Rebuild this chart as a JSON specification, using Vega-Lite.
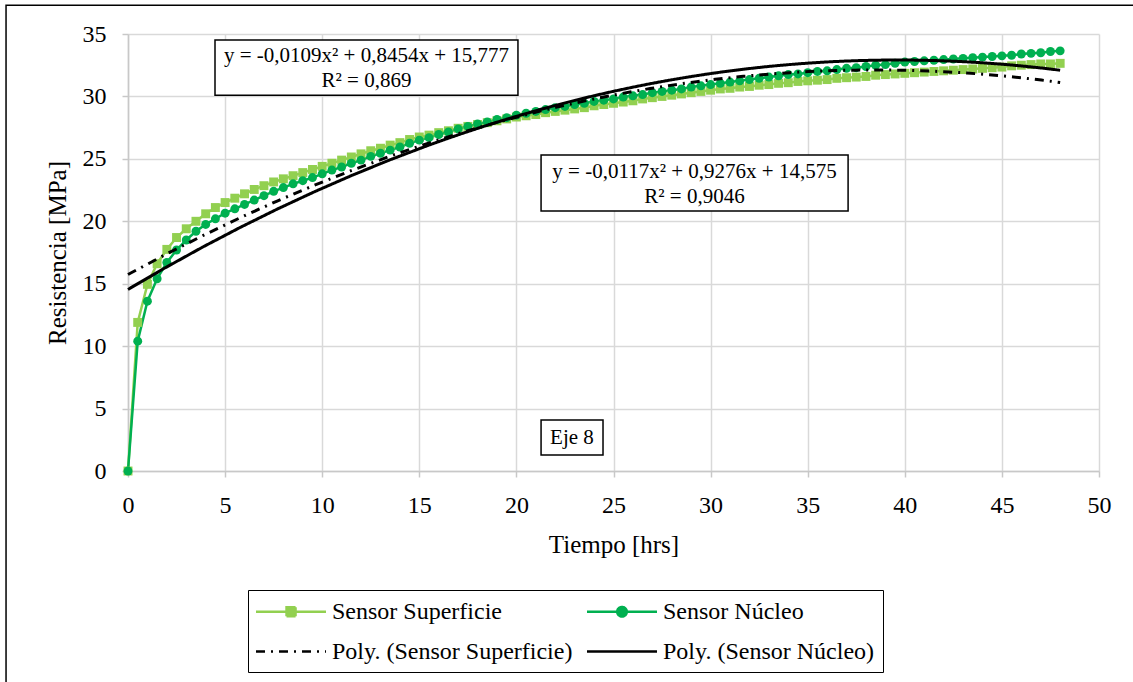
{
 "$schema": "https://vega.github.io/schema/vega-lite/v6.json",
 "width": 971, "height": 437,
 "autosize": {"type": "none"},
 "padding": {"left": 128, "top": 34, "right": 34, "bottom": 211},
 "background": "white",
 "config": {
  "view": {"stroke": null},
  "font": "Liberation Serif",
  "axis": {"gridColor": "#d9d9d9", "gridWidth": 1.5, "domainColor": "#c8c8c8", "domainWidth": 1.5, "tickColor": "#c8c8c8", "tickSize": 6, "tickWidth": 1.5, "labelFont": "Liberation Serif", "labelFontSize": 24, "labelColor": "black", "titleFont": "Liberation Serif", "titleFontSize": 25, "titleFontWeight": "normal", "titleColor": "black", "labelPadding": 16, "labelFlush": false, "labelOverlap": false},
  "axisX": {"titlePadding": 15},
  "axisY": {"titlePadding": 12}
 },
 "datasets": {
  "obs": [
   {"t":0,"sup":0,"nuc":0},{"t":0.5,"sup":11.9,"nuc":10.4},{"t":1,"sup":14.95,"nuc":13.6},{"t":1.5,"sup":16.6,"nuc":15.4},{"t":2,"sup":17.75,"nuc":16.7},{"t":2.5,"sup":18.7,"nuc":17.7},{"t":3,"sup":19.4,"nuc":18.5},{"t":3.5,"sup":20.0,"nuc":19.2},{"t":4,"sup":20.6,"nuc":19.75},{"t":4.5,"sup":21.1,"nuc":20.2},
   {"t":5,"sup":21.5,"nuc":20.65},{"t":5.5,"sup":21.85,"nuc":21.0},{"t":6,"sup":22.2,"nuc":21.35},{"t":6.5,"sup":22.55,"nuc":21.7},{"t":7,"sup":22.85,"nuc":22.05},{"t":7.5,"sup":23.15,"nuc":22.4},{"t":8,"sup":23.4,"nuc":22.7},{"t":8.5,"sup":23.65,"nuc":23.0},{"t":9,"sup":23.9,"nuc":23.25},{"t":9.5,"sup":24.15,"nuc":23.5},
   {"t":10,"sup":24.4,"nuc":23.8},{"t":10.5,"sup":24.65,"nuc":24.1},{"t":11,"sup":24.9,"nuc":24.35},{"t":11.5,"sup":25.15,"nuc":24.65},{"t":12,"sup":25.4,"nuc":24.9},{"t":12.5,"sup":25.65,"nuc":25.2},{"t":13,"sup":25.85,"nuc":25.45},{"t":13.5,"sup":26.1,"nuc":25.7},{"t":14,"sup":26.3,"nuc":25.95},{"t":14.5,"sup":26.55,"nuc":26.25},
   {"t":15,"sup":26.75,"nuc":26.5},{"t":15.5,"sup":26.9,"nuc":26.7},{"t":16,"sup":27.1,"nuc":26.95},{"t":16.5,"sup":27.25,"nuc":27.15},{"t":17,"sup":27.45,"nuc":27.4},{"t":17.5,"sup":27.6,"nuc":27.6},{"t":18,"sup":27.75,"nuc":27.8},{"t":18.5,"sup":27.9,"nuc":27.95},{"t":19,"sup":28.05,"nuc":28.15},{"t":19.5,"sup":28.2,"nuc":28.3},
   {"t":20,"sup":28.35,"nuc":28.5},{"t":20.5,"sup":28.45,"nuc":28.65},{"t":21,"sup":28.55,"nuc":28.8},{"t":21.5,"sup":28.7,"nuc":28.95},{"t":22,"sup":28.8,"nuc":29.1},{"t":22.5,"sup":28.9,"nuc":29.2},{"t":23,"sup":29.0,"nuc":29.35},{"t":23.5,"sup":29.1,"nuc":29.45},{"t":24,"sup":29.25,"nuc":29.6},{"t":24.5,"sup":29.35,"nuc":29.7},
   {"t":25,"sup":29.45,"nuc":29.8},{"t":25.5,"sup":29.55,"nuc":29.95},{"t":26,"sup":29.65,"nuc":30.05},{"t":26.5,"sup":29.8,"nuc":30.15},{"t":27,"sup":29.9,"nuc":30.3},{"t":27.5,"sup":30.0,"nuc":30.4},{"t":28,"sup":30.1,"nuc":30.5},{"t":28.5,"sup":30.2,"nuc":30.6},{"t":29,"sup":30.3,"nuc":30.75},{"t":29.5,"sup":30.4,"nuc":30.85},
   {"t":30,"sup":30.5,"nuc":30.95},{"t":30.5,"sup":30.6,"nuc":31.05},{"t":31,"sup":30.65,"nuc":31.15},{"t":31.5,"sup":30.75,"nuc":31.25},{"t":32,"sup":30.8,"nuc":31.35},{"t":32.5,"sup":30.9,"nuc":31.45},{"t":33,"sup":30.95,"nuc":31.55},{"t":33.5,"sup":31.05,"nuc":31.65},{"t":34,"sup":31.1,"nuc":31.75},{"t":34.5,"sup":31.2,"nuc":31.8},
   {"t":35,"sup":31.25,"nuc":31.9},{"t":35.5,"sup":31.3,"nuc":32.0},{"t":36,"sup":31.35,"nuc":32.05},{"t":36.5,"sup":31.45,"nuc":32.15},{"t":37,"sup":31.5,"nuc":32.25},{"t":37.5,"sup":31.55,"nuc":32.3},{"t":38,"sup":31.6,"nuc":32.4},{"t":38.5,"sup":31.7,"nuc":32.5},{"t":39,"sup":31.75,"nuc":32.55},{"t":39.5,"sup":31.8,"nuc":32.65},
   {"t":40,"sup":31.85,"nuc":32.75},{"t":40.5,"sup":31.9,"nuc":32.8},{"t":41,"sup":31.95,"nuc":32.85},{"t":41.5,"sup":32.0,"nuc":32.9},{"t":42,"sup":32.05,"nuc":32.95},{"t":42.5,"sup":32.1,"nuc":33.0},{"t":43,"sup":32.15,"nuc":33.05},{"t":43.5,"sup":32.2,"nuc":33.1},{"t":44,"sup":32.25,"nuc":33.15},{"t":44.5,"sup":32.3,"nuc":33.2},
   {"t":45,"sup":32.35,"nuc":33.25},{"t":45.5,"sup":32.45,"nuc":33.3},{"t":46,"sup":32.5,"nuc":33.4},{"t":46.5,"sup":32.55,"nuc":33.45},{"t":47,"sup":32.6,"nuc":33.5},{"t":47.5,"sup":32.6,"nuc":33.6},{"t":48,"sup":32.65,"nuc":33.65}
  ],
  "frame": [{"x1": -6.28, "x2": 60, "y1": -30, "y2": 37.31}],
  "boxes": [
   {"x1": 4.48, "x2": 20.08, "y1": 30.10, "y2": 34.51},
   {"x1": 21.27, "x2": 37.08, "y1": 20.82, "y2": 25.30},
   {"x1": 21.27, "x2": 24.46, "y1": 1.28, "y2": 4.08}
  ],
  "texts": [
   {"x": 12.28, "y": 33.23, "label": "y = -0,0109x² + 0,8454x + 15,777"},
   {"x": 12.28, "y": 31.22, "label": "R² = 0,869"},
   {"x": 29.17, "y": 23.94, "label": "y = -0,0117x² + 0,9276x + 14,575"},
   {"x": 29.17, "y": 21.94, "label": "R² = 0,9046"},
   {"x": 22.86, "y": 2.64, "label": "Eje 8"}
  ]
 },
 "layer": [
  {
   "data": {"name": "frame"},
   "mark": {"type": "rect", "fill": null, "stroke": "black", "strokeWidth": 1.5},
   "encoding": {
    "x": {"field": "x1", "type": "quantitative", "scale": {"domain": [0, 50], "nice": false, "zero": false}, "axis": {"values": [0,5,10,15,20,25,30,35,40,45,50]}, "title": "Tiempo [hrs]"},
    "x2": {"field": "x2"},
    "y": {"field": "y1", "type": "quantitative", "scale": {"domain": [0, 35], "nice": false, "zero": false}, "axis": {"values": [0,5,10,15,20,25,30,35]}, "title": "Resistencia [MPa]"},
    "y2": {"field": "y2"}
   }
  },
  {
   "data": {"name": "obs"},
   "transform": [{"fold": ["sup", "nuc"], "as": ["key", "val"]}],
   "layer": [
    {
     "mark": {"type": "line", "strokeWidth": 2.5},
     "encoding": {
      "x": {"field": "t", "type": "quantitative", "title": "Tiempo [hrs]"},
      "y": {"field": "val", "type": "quantitative", "title": "Resistencia [MPa]"},
      "color": {"field": "key", "type": "nominal",
       "scale": {"domain": ["sup", "psup", "nuc", "pnuc"], "range": ["#92D050", "#000000", "#00B050", "#000000"]},
       "legend": {
        "orient": "none", "legendX": 120, "legendY": 556, "columns": 2, "title": null,
        "strokeColor": "black", "fillColor": "white", "padding": 8, "rowPadding": 14, "columnPadding": 9,
        "labelFont": "Liberation Serif", "labelFontSize": 24, "labelColor": "black", "labelLimit": 400, "labelOffset": 49,
        "symbolSize": 576, "symbolStrokeWidth": 2.5,
        "labelExpr": "datum.label == 'sup' ? 'Sensor Superficie' : datum.label == 'nuc' ? 'Sensor Núcleo' : datum.label == 'psup' ? 'Poly. (Sensor Superficie)' : 'Poly. (Sensor Núcleo)'",
        "encode": {"symbols": {"update": {
         "size": {"value": 576},
         "strokeWidth": {"value": 2.5},
         "shape": {"signal": "datum.value == 'sup' ? 'M-1.125,0H4.708M1.42,-0.375H2.17V0.375H1.42Z' : datum.value == 'nuc' ? 'M-1.125,0H4.708M1.39,0A0.4,0.4,0,1,1,2.19,0A0.4,0.4,0,1,1,1.39,0Z' : 'M-1.125,0H4.708'"},
         "fill": {"signal": "scale('color', datum.value)"},
         "stroke": {"signal": "scale('color', datum.value)"},
         "strokeDash": {"signal": "datum.value == 'psup' ? [9, 6, 2, 6] : [1, 0]"}
        }}}
       }
      }
     }
    },
    {
     "mark": {"type": "point", "filled": true, "opacity": 1, "size": 80},
     "encoding": {
      "x": {"field": "t", "type": "quantitative", "title": "Tiempo [hrs]"},
      "y": {"field": "val", "type": "quantitative", "title": "Resistencia [MPa]"},
      "color": {"field": "key", "type": "nominal"},
      "shape": {"field": "key", "type": "nominal", "scale": {"domain": ["sup", "nuc"], "range": ["square", "circle"]}, "legend": null}
     }
    }
   ]
  },
  {
   "data": {"name": "obs"},
   "transform": [
    {"fold": ["sup", "nuc"], "as": ["key", "val"]},
    {"regression": "val", "on": "t", "method": "poly", "order": 2, "extent": [0, 48], "groupby": ["key"]},
    {"calculate": "'p' + datum.key", "as": "tkey"}
   ],
   "mark": {"type": "line", "strokeWidth": 3},
   "encoding": {
    "x": {"field": "t", "type": "quantitative", "title": "Tiempo [hrs]"},
    "y": {"field": "val", "type": "quantitative", "title": "Resistencia [MPa]"},
    "color": {"field": "tkey", "type": "nominal"},
    "strokeDash": {"field": "tkey", "type": "nominal", "scale": {"domain": ["psup", "pnuc"], "range": [[9, 6, 2, 6], [1, 0]]}, "legend": null}
   }
  },
  {
   "data": {"name": "boxes"},
   "mark": {"type": "rect", "fill": "white", "stroke": "black", "strokeWidth": 1.5},
   "encoding": {
    "x": {"field": "x1", "type": "quantitative", "title": "Tiempo [hrs]"},
    "x2": {"field": "x2"},
    "y": {"field": "y1", "type": "quantitative", "title": "Resistencia [MPa]"},
    "y2": {"field": "y2"}
   }
  },
  {
   "data": {"name": "texts"},
   "mark": {"type": "text", "font": "Liberation Serif", "fontSize": 21, "color": "black", "align": "center", "baseline": "middle"},
   "encoding": {
    "x": {"field": "x", "type": "quantitative", "title": "Tiempo [hrs]"},
    "y": {"field": "y", "type": "quantitative", "title": "Resistencia [MPa]"},
    "text": {"field": "label"}
   }
  }
 ]
}
